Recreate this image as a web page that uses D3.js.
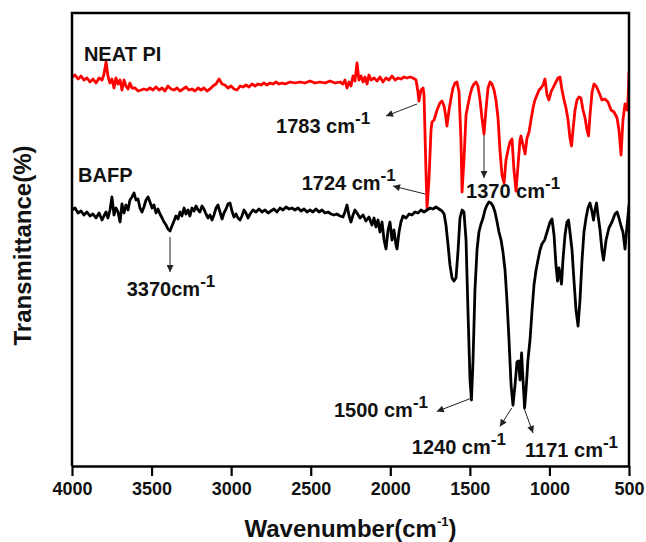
<!DOCTYPE html>
<html>
<head>
<meta charset="utf-8">
<script src="https://cdn.jsdelivr.net/npm/d3@7"></script>
<style>
  body { margin: 0; background: #fff; }
  svg text { font-family: "Liberation Sans", Arial, sans-serif; font-weight: bold; fill: #111; }
</style>
</head>
<body>
<script>
// FTIR spectra, wavenumber (cm-1) vs transmittance (a.u., curves offset)
const neatWn = [4000,3981,3962,3943,3925,3906,3887,3868,3849,3830,3811,3799,3786,3774,3761,3749,3736,3724,3711,3698,
  3686,3673,3661,3648,3636,3623,3604,3585,3566,3548,3529,3510,3491,3472,3453,3434,3416,3397,3378,3359,
  3340,3321,3302,3284,3265,3246,3227,3208,3189,3171,3152,3133,3114,3095,3076,3057,3039,3020,3001,2982,
  2963,2944,2925,2907,2888,2869,2850,2831,2812,2794,2775,2756,2737,2718,2699,2680,2662,2630,2599,2567,
  2536,2504,2473,2442,2410,2379,2347,2316,2297,2285,2272,2259,2247,2234,2222,2209,2197,2184,2171,2159,
  2146,2134,2121,2102,2083,2065,2046,2027,2008,1989,1970,1951,1933,1914,1895,1876,1857,1838,1826,1820,
  1807,1794,1788,1776,1769,1757,1744,1738,1725,1706,1688,1675,1662,1650,1644,1631,1618,1606,1593,1581,
  1568,1556,1549,1537,1524,1512,1499,1487,1474,1461,1449,1436,1424,1411,1399,1386,1373,1361,1348,1336,
  1323,1311,1298,1285,1273,1260,1248,1235,1223,1210,1197,1185,1179,1166,1153,1141,1128,1116,1103,1091,
  1078,1065,1053,1040,1028,1015,1003,990,978,959,946,934,921,908,896,883,871,861,852,839,
  827,814,802,789,776,764,754,745,732,720,707,695,682,670,651,632,613,594,575,563,
  550,538,525,512,506,500]
const neatT = [77.8,78.2,77.4,78.0,77.2,77.6,76.8,77.4,76.6,77.6,77.2,78.4,80.8,78.0,76.6,77.4,75.6,77.6,76.4,77.2,
  75.2,77.2,76.0,75.4,76.6,75.6,75.6,75.0,75.2,75.4,75.2,75.6,75.2,75.8,75.2,75.6,75.0,76.0,75.4,75.2,
  75.6,75.0,75.4,75.8,75.2,75.4,75.0,75.6,75.2,75.6,75.0,75.4,76.0,76.4,77.4,76.4,76.2,75.6,76.0,75.4,
  75.2,76.0,75.8,76.2,75.8,76.4,76.0,76.4,76.2,76.6,76.2,76.6,76.4,76.8,76.4,76.6,76.4,76.8,76.6,76.8,
  76.6,77.0,76.6,76.8,76.6,77.0,76.6,76.8,76.4,77.2,75.6,76.8,76.0,78.0,77.0,80.6,77.2,78.0,76.8,77.8,
  76.4,78.2,77.2,77.6,77.0,77.8,76.8,77.6,77.2,78.0,77.2,77.6,77.4,77.8,77.6,77.8,77.6,77.2,74.8,73.0,
  75.2,75.6,74.2,59.2,51.6,57.2,67.2,68.8,69.2,71.2,72.6,73.0,72.0,69.6,68.0,71.2,73.6,75.6,76.6,76.8,
  74.8,65.2,54.8,61.2,70.2,72.2,74.2,75.6,76.4,76.8,76.0,73.2,69.6,66.4,71.2,75.6,76.8,76.4,75.2,73.2,
  69.6,63.2,58.2,56.6,61.2,63.2,64.8,65.4,59.2,55.0,60.2,65.2,66.0,64.2,62.4,65.6,66.8,69.2,71.6,73.2,
  74.2,75.2,75.6,76.2,77.4,74.2,73.2,74.8,75.6,76.8,77.6,77.8,75.2,73.2,71.6,69.2,65.6,64.0,67.2,71.2,
  73.2,73.8,73.6,71.2,69.6,67.2,66.0,70.2,74.8,76.4,76.0,75.2,74.2,73.2,73.4,72.8,71.2,70.8,69.6,67.2,
  62.2,69.2,72.4,71.2,73.2,78.8]

const bafpWn = [4000,3981,3962,3943,3925,3906,3887,3868,3849,3830,3811,3799,3786,3774,3761,3749,3736,3724,3711,3698,
  3686,3673,3661,3648,3636,3623,3610,3598,3585,3573,3560,3548,3535,3522,3510,3497,3485,3472,3460,3447,
  3434,3422,3409,3397,3384,3372,3359,3347,3334,3321,3309,3296,3284,3271,3259,3246,3233,3221,3208,3196,
  3183,3171,3158,3145,3133,3120,3108,3095,3083,3070,3057,3045,3032,3020,3007,2995,2982,2969,2957,2944,
  2932,2919,2907,2894,2881,2863,2844,2825,2806,2787,2768,2750,2731,2712,2693,2674,2655,2636,2618,2599,
  2580,2561,2542,2523,2504,2486,2467,2448,2429,2410,2391,2372,2354,2335,2316,2297,2285,2272,2259,2247,
  2234,2222,2209,2190,2171,2153,2134,2115,2102,2090,2077,2065,2052,2039,2027,2014,2002,1989,1977,1964,
  1958,1945,1933,1920,1901,1882,1864,1845,1826,1807,1788,1769,1750,1732,1713,1694,1675,1662,1650,1637,
  1625,1612,1600,1587,1574,1562,1549,1537,1524,1512,1499,1490,1480,1468,1455,1443,1430,1417,1405,1392,
  1380,1367,1355,1342,1329,1317,1304,1292,1279,1267,1254,1241,1229,1216,1204,1194,1185,1175,1166,1156,
  1147,1135,1122,1109,1097,1084,1072,1059,1047,1030,1015,996,984,971,959,949,940,924,915,902,
  890,880,871,858,846,833,820,808,795,783,770,758,745,732,723,714,704,695,682,670,
  660,644,626,607,588,575,563,550,538,525,512,500]
const bafpT = [51.2,51.6,50.6,51.0,50.2,50.8,50.0,50.4,49.6,50.6,49.2,50.0,50.8,49.6,51.2,53.8,50.2,51.6,50.8,48.8,
  52.4,50.6,52.2,51.2,53.2,53.8,54.6,53.2,53.4,51.6,50.8,51.8,53.2,53.8,52.8,51.6,52.2,50.6,51.4,50.4,
  49.6,48.8,48.2,47.4,47.0,48.0,49.0,50.0,49.4,50.8,50.0,51.6,50.4,51.2,50.0,51.6,51.0,52.0,51.2,50.8,
  52.0,51.4,50.4,49.6,50.2,49.2,50.2,51.6,52.2,50.8,49.4,50.6,51.4,52.4,52.6,51.0,49.8,50.4,49.6,49.2,
  50.0,51.2,50.6,49.6,50.4,51.2,50.8,51.4,50.8,51.2,50.6,51.0,51.4,50.8,51.6,51.2,51.8,51.4,51.6,51.2,
  51.6,51.0,51.4,50.8,51.2,50.8,51.4,50.8,51.2,50.6,50.8,50.4,50.2,50.4,50.0,49.8,50.8,52.2,50.0,48.8,
  50.2,51.2,50.6,49.6,50.2,49.0,49.8,48.2,49.6,47.8,49.2,46.8,48.8,45.2,43.4,47.2,48.8,45.2,47.2,44.2,
  43.4,46.8,48.8,50.0,49.6,50.4,50.2,50.8,50.6,51.2,50.8,51.2,51.6,51.4,51.8,51.4,51.0,50.4,48.2,44.2,
  40.2,37.6,37.0,37.6,43.2,49.6,51.2,50.8,45.2,31.2,17.2,13.2,21.2,35.2,43.2,46.8,48.4,49.6,51.2,52.2,
  52.8,52.6,52.0,50.8,48.8,46.8,45.2,42.8,39.2,33.2,25.2,16.2,12.2,16.2,20.8,21.0,17.2,22.6,17.2,11.6,
  15.2,21.2,25.2,31.2,36.2,39.2,41.2,43.2,44.4,45.2,46.8,48.8,49.4,46.2,40.2,37.0,39.6,36.4,41.2,46.2,
  48.8,49.2,46.8,43.2,37.2,31.2,28.0,33.2,41.2,46.8,49.6,51.6,52.6,50.8,49.2,51.2,52.6,50.2,47.2,43.2,
  41.2,45.2,47.6,48.8,50.4,50.8,49.6,48.0,46.8,43.4,48.2,52.2]

const xTicks = [4000, 3500, 3000, 2500, 2000, 1500, 1000, 500]
const seriesNames = ['NEAT PI', 'BAFP']
const seriesColors = ['#ff0000', '#000000']

// peak annotations: label, arrow tail/head and text anchor in data units
const peaks = [
  { text: '1783 cm', from: [1832, 72.4], to: [2027, 70.0], at: [2718, 66.6] },
  { text: '1724 cm', from: [1782, 54.4], to: [1983, 56.0], at: [2557, 55.2] },
  { text: '1370 cm', from: [1411, 66.2], to: [1411, 57.6], at: [1524, 53.6] },
  { text: '3370cm', from: [3384, 45.8], to: [3384, 38.8], at: [3656, 34.0] },
  { text: '1500 cm', from: [1488, 13.6], to: [1708, 10.9], at: [2354, 9.9] },
  { text: '1240 cm', from: [1237, 11.6], to: [1311, 7.9], at: [1865, 2.4] },
  { text: '1171 cm', from: [1160, 11.6], to: [1103, 6.6], at: [1153, 1.9] }
]
const nameAt = [[3925, 81.0], [3962, 56.9]]

const width = 646
const height = 542
const margin = { top: 13, right: 17, bottom: 76, left: 72 }

const svg = d3.select('body')
  .append('svg')
  .attr('width', width)
  .attr('height', height)

const x = d3.scaleLinear().domain([4000, 500]).range([margin.left, width - margin.right])
const y = d3.scaleLinear().domain([0, 90.6]).range([height - margin.bottom, margin.top])

svg.append('defs').append('clipPath').attr('id', 'plot')
  .append('rect')
  .attr('x', margin.left).attr('y', margin.top)
  .attr('width', width - margin.left - margin.right)
  .attr('height', height - margin.top - margin.bottom)

svg.select('defs').append('marker')
  .attr('id', 'head')
  .attr('viewBox', '0 0 10 10')
  .attr('refX', 10).attr('refY', 5)
  .attr('markerUnits', 'userSpaceOnUse')
  .attr('markerWidth', 9).attr('markerHeight', 7)
  .attr('orient', 'auto')
  .append('path')
  .attr('d', 'M0,0L10,5L0,10Z')
  .attr('fill', '#222')

// spectra
const line = d3.line().x(d => x(d[0])).y(d => y(d[1]))
const series = [d3.zip(neatWn, neatT), d3.zip(bafpWn, bafpT)]

svg.append('g')
  .attr('clip-path', 'url(#plot)')
  .selectAll('path')
  .data(series)
  .enter()
  .append('path')
  .attr('d', line)
  .attr('fill', 'none')
  .attr('stroke', (d, i) => seriesColors[i])
  .attr('stroke-width', 2.8)
  .attr('stroke-linejoin', 'round')

// frame
const [x0, x1] = x.range()
const [yb, yt] = y.range()
svg.append('path')
  .attr('d', `M${x0},${yb}V${yt}H${x1}V${yb}`)
  .attr('fill', 'none')
  .attr('stroke', '#000')
  .attr('stroke-width', 2.5)

const xAxis = svg.append('g')
  .attr('transform', `translate(0,${yb})`)
  .call(d3.axisBottom(x).tickValues(xTicks).tickSize(10).tickPadding(6).tickSizeOuter(0).tickFormat(d3.format('d')))
xAxis.select('.domain').attr('stroke-width', 2.5)
xAxis.selectAll('.tick line').attr('stroke-width', 2.2)
xAxis.selectAll('.tick text')
  .style('font-size', '18px')

// axis titles
const xt = svg.append('text')
  .attr('x', (x0 + x1) / 2)
  .attr('y', 537)
  .attr('text-anchor', 'middle')
  .style('font-size', '24px')
xt.append('tspan').text('Wavenumber(cm')
xt.append('tspan').text('-1').style('font-size', '13px').attr('dy', -11)
xt.append('tspan').text(')').attr('dy', 11)

svg.append('text')
  .attr('transform', `translate(31,${(yb + yt) / 2 + 6}) rotate(-90)`)
  .attr('text-anchor', 'middle')
  .style('font-size', '24px')
  .text('Transmittance(%)')

// series names
svg.selectAll('.name')
  .data(seriesNames)
  .enter()
  .append('text')
  .attr('class', 'name')
  .attr('x', (d, i) => x(nameAt[i][0]))
  .attr('y', (d, i) => y(nameAt[i][1]))
  .style('font-size', '20px')
  .text(d => d)

// peak arrows and labels
const ann = svg.append('g')
ann.selectAll('line')
  .data(peaks)
  .enter()
  .append('line')
  .attr('x1', d => x(d.from[0])).attr('y1', d => y(d.from[1]))
  .attr('x2', d => x(d.to[0])).attr('y2', d => y(d.to[1]))
  .attr('stroke', '#222')
  .attr('stroke-width', 1)
  .attr('marker-end', 'url(#head)')

const labels = ann.selectAll('text')
  .data(peaks)
  .enter()
  .append('text')
  .attr('x', d => x(d.at[0]))
  .attr('y', d => y(d.at[1]))
  .style('font-size', '20px')
labels.append('tspan').text(d => d.text)
labels.append('tspan').text('-1').style('font-size', '17px').attr('dy', -9)
</script>
</body>
</html>
